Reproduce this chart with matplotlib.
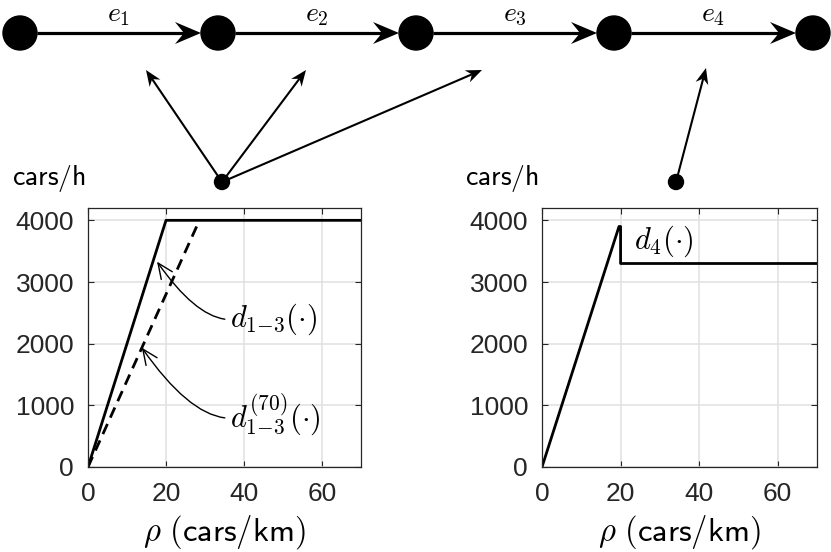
import matplotlib
matplotlib.use("Agg")
import matplotlib.pyplot as plt
from matplotlib.patches import Circle, Polygon
import numpy as np

plt.rcParams["font.family"] = ["Liberation Sans", "DejaVu Sans"]
plt.rcParams["mathtext.fontset"] = "cm"

# supply functions (cars/km -> cars/h)
rho_d13 = [0, 20, 70]
flow_d13 = [0, 4000, 4000]
rho_d13_70 = [0, 28.57]
flow_d13_70 = [0, 4000]
rho_d4 = [0, 19.6, 20, 20, 70]
flow_d4 = [0, 3900, 3900, 3300, 3300]

x_ticks = [0, 20, 40, 60]
y_ticks = [0, 1000, 2000, 3000, 4000]

# network diagram (pixel layout)
node_x = [20, 218, 416, 614, 813]
node_y = 33
edge_labels = [r"$e_1$", r"$e_2$", r"$e_3$", r"$e_4$"]
src_pts = [(222, 182), (676, 182)]
arrow_targets = [[(146, 70), (306, 70), (482, 70)], [(706, 68)]]

W, H = 831, 552
fig = plt.figure(figsize=(W / 100, H / 100), dpi=100)

TICK_C = "#262626"


def style_axes(ax):
    ax.set_xlim(0, 70)
    ax.set_ylim(0, 4200)
    ax.set_xticks(x_ticks)
    ax.set_yticks(y_ticks)
    ax.grid(True, color="#e0e0e0", linewidth=1.1)
    ax.set_axisbelow(True)
    ax.tick_params(direction="in", length=4, width=0.8, colors=TICK_C,
                   labelsize=19, top=True, right=True, pad=10)
    ax.tick_params(axis="x", pad=11)
    for s in ax.spines.values():
        s.set_color(TICK_C)
        s.set_linewidth(0.9)
    ax.set_xlabel(r"$\rho\ \mathsf{(cars/km)}$", fontsize=23.5, labelpad=5)


ax1 = fig.add_axes([88 / W, 1 - 467 / H, 273 / W, 259 / H])
ax2 = fig.add_axes([542 / W, 1 - 467 / H, 275 / W, 259 / H])
style_axes(ax1)
style_axes(ax2)

ax1.plot(rho_d13, flow_d13, color="black", linewidth=2.0, solid_capstyle="butt")
ax1.plot(rho_d13_70, flow_d13_70, color="black", linewidth=2.0, dashes=(4, 2.5))
arr = dict(arrowstyle="->,head_length=0.5,head_width=0.22",
           color="black", linewidth=1.0, shrinkA=2, shrinkB=0,
           connectionstyle="angle3,angleA=0,angleB=125")
ax1.annotate(r"$d_{1{-}3}(\cdot)$", xy=(17.7, 3330), xytext=(36.5, 2390),
             fontsize=22, va="center", ha="left",
             arrowprops=dict(arr, relpos=(0, 0.5)))
ax1.annotate(r"$d_{1{-}3}^{(70)}(\cdot)$", xy=(13.8, 1935), xytext=(36.5, 850),
             fontsize=22, va="center", ha="left",
             arrowprops=dict(arr, relpos=(0, 0.42)))

ax2.plot(rho_d4, flow_d4, color="black", linewidth=2.0)
ax2.text(23.5, 3660, r"$d_4(\cdot)$", fontsize=22, va="center", ha="left")

# overlay for the network sketch, pixel coordinates
ov = fig.add_axes([0, 0, 1, 1])
ov.set_xlim(0, W)
ov.set_ylim(H, 0)
ov.axis("off")


def stealth(ax, p0, p1, lw, L, hw, notch):
    p0 = np.array(p0, float)
    p1 = np.array(p1, float)
    u = (p1 - p0) / np.linalg.norm(p1 - p0)
    n = np.array([-u[1], u[0]])
    base = p1 - (L - notch) * u
    ax.plot([p0[0], base[0]], [p0[1], base[1]], color="black", linewidth=lw,
            solid_capstyle="butt")
    pts = [p1, p1 - L * u + hw * n, base, p1 - L * u - hw * n]
    ax.add_patch(Polygon(pts, closed=True, color="black", lw=0))


R = 17
for x in node_x:
    ov.add_patch(Circle((x, node_y), R, color="black"))
for i, lab in enumerate(edge_labels):
    stealth(ov, (node_x[i] + R, node_y), (node_x[i + 1] - R, node_y), 2.3, 26, 11, 9)
    ov.text((node_x[i] + node_x[i + 1]) / 2, 15, lab, fontsize=20,
            ha="center", va="center")

for src, tgts in zip(src_pts, arrow_targets):
    ov.add_patch(Circle(src, 7.5, color="black"))
    for t in tgts:
        stealth(ov, src, t, 1.5, 16, 6.5, 5)

for x in [12, 465]:
    ov.text(x, 178, r"$\mathsf{cars/h}$", fontsize=20, ha="left", va="center")

fig.savefig("out.png", dpi=100)
